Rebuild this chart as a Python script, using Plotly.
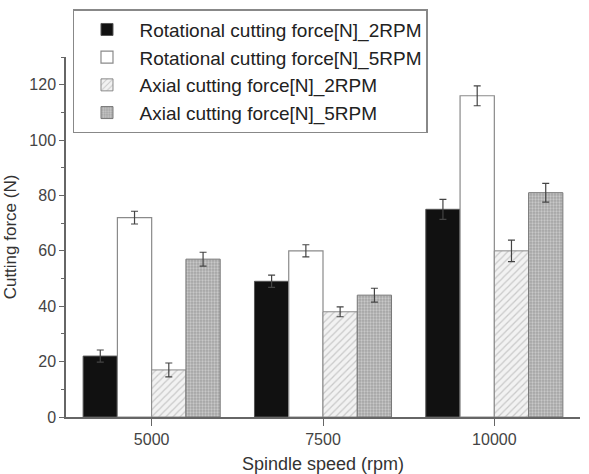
import plotly.graph_objects as go

categories = ["5000", "7500", "10000"]
series_names = [
    "Rotational cutting force[N]_2RPM",
    "Rotational cutting force[N]_5RPM",
    "Axial cutting force[N]_2RPM",
    "Axial cutting force[N]_5RPM",
]
rot_2rpm = [22, 49, 75]
rot_5rpm = [72, 60, 116]
axial_2rpm = [17, 38, 60]
axial_5rpm = [57, 44, 81]
rot_2rpm_err = [2.2, 2.2, 3.6]
rot_5rpm_err = [2.3, 2.2, 3.6]
axial_2rpm_err = [2.5, 1.8, 3.9]
axial_5rpm_err = [2.5, 2.5, 3.4]

values = [rot_2rpm, rot_5rpm, axial_2rpm, axial_5rpm]
errors = [rot_2rpm_err, rot_5rpm_err, axial_2rpm_err, axial_5rpm_err]

markers = [
    dict(color="#111111", line=dict(color="#555555", width=1)),
    dict(color="#ffffff", line=dict(color="#8a8a8a", width=1.2)),
    dict(color="#ffffff", line=dict(color="#8a8a8a", width=1),
         pattern=dict(shape="/", fgcolor="#a0a0a0", bgcolor="#f2f2f2", size=5, solidity=0.25)),
    dict(color="#ffffff", line=dict(color="#777777", width=1),
         pattern=dict(shape=".", fgcolor="#ececec", bgcolor="#a4a4a4", size=3, solidity=0.45)),
]

fig = go.Figure()
for name, vals, errs, mk in zip(series_names, values, errors, markers):
    fig.add_trace(go.Bar(
        x=categories, y=vals, name=name, marker=mk,
        error_y=dict(type="data", array=errs, visible=True,
                     color="#444444", thickness=1.2, width=3.5),
    ))

font_family = "Liberation Sans, Arial, sans-serif"
fig.update_layout(
    width=589, height=474,
    margin=dict(l=66, r=9, t=57, b=57),
    paper_bgcolor="white", plot_bgcolor="white",
    barmode="group", bargap=0.2, bargroupgap=0,
    font=dict(family=font_family, color="#333333"),
    showlegend=True,
    legend=dict(
        x=0.0136, y=1.133, xanchor="left", yanchor="top",
        font=dict(size=19, color="#222222", family=font_family),
        bordercolor="#888888", borderwidth=1.5, bgcolor="white",
        itemwidth=55, tracegroupgap=0,
    ),
    xaxis=dict(
        type="category", range=[-0.5, 2.5], automargin=False,
        showline=True, linecolor="#666666", linewidth=1.5,
        ticks="outside", ticklen=7, tickcolor="#666666", tickwidth=1.2,
        tickfont=dict(size=16, color="#444444"),
        title=dict(text="Spindle speed (rpm)", font=dict(size=18, color="#333333"), standoff=10),
        showgrid=False, zeroline=False,
    ),
    yaxis=dict(
        range=[0, 130], dtick=20, tick0=0, automargin=False,
        showline=True, linecolor="#666666", linewidth=1.5,
        ticks="outside", ticklen=5, tickcolor="#666666", tickwidth=1.2,
        tickfont=dict(size=16, color="#444444"),
        minor=dict(dtick=10, ticks="outside", ticklen=3, tickcolor="#666666"),
        title=dict(text="Cutting force (N)", font=dict(size=17, color="#333333"), standoff=8),
        showgrid=False, zeroline=False,
    ),
)

fig.write_html("out.html")
